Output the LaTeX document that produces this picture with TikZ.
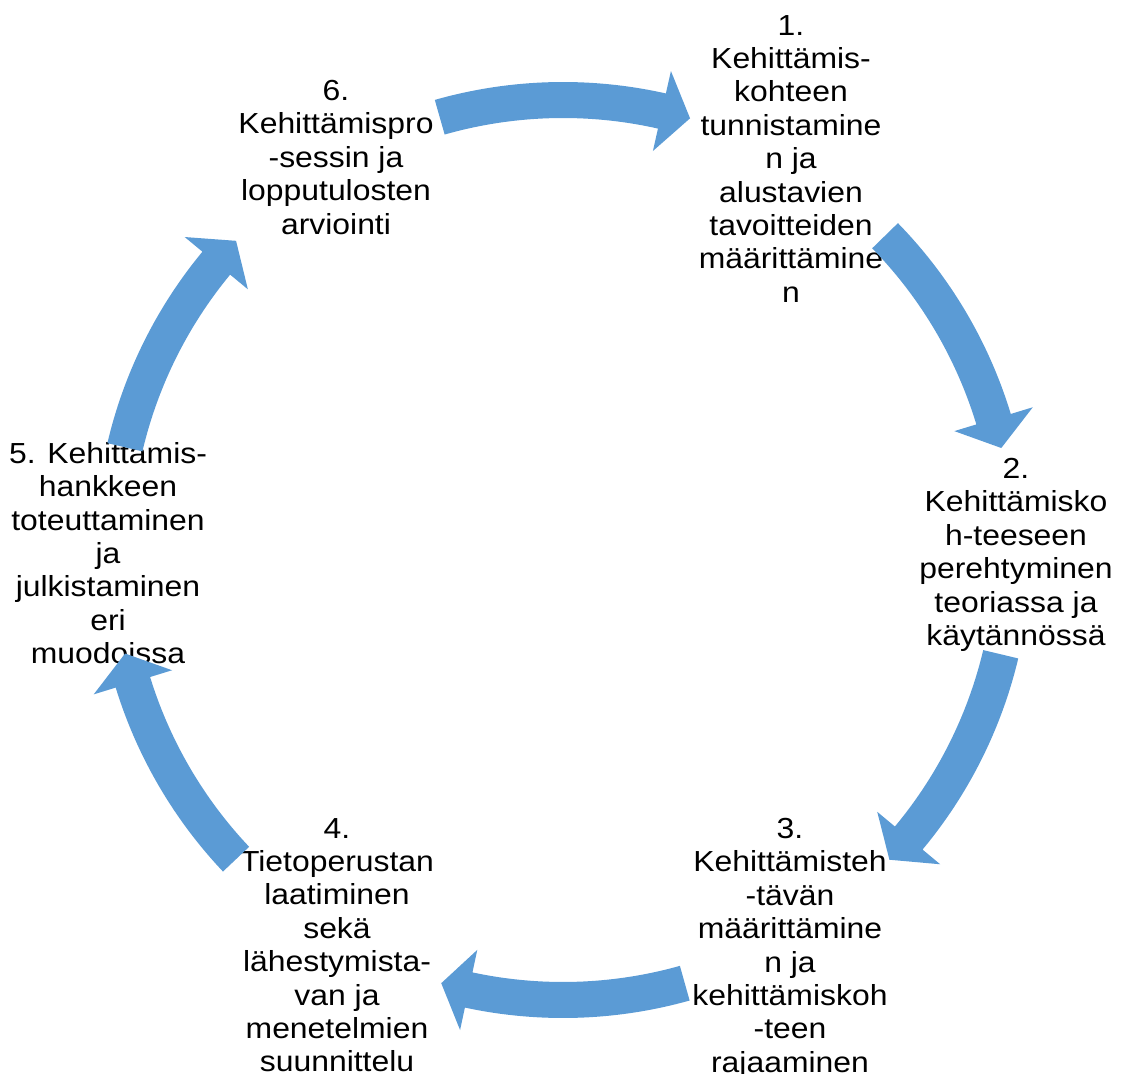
\documentclass[tikz,border=0pt]{standalone}
\usepackage{fontspec}
\setmainfont{Liberation Sans}[FakeStretch=1.1]
\usetikzlibrary{calc}
\definecolor{arrowblue}{HTML}{5B9BD5}
\tikzset{
  steptext/.style={align=center, inner sep=0pt, anchor=north, text=black,
    font=\fontsize{29pt}{33.4pt}\selectfont},
  arrowfill/.style={fill=arrowblue, draw=none}
}
% #1 tail angle, #2 head base angle, #3 tip angle
\newcommand{\cycarrow}[3]{%
  \fill[arrowfill] ($(C)+(#1:468)$) arc[start angle=#1, end angle=#2, radius=468]
    -- ($(C)+(#2:491)$) -- ($(C)+(#3:450)$) -- ($(C)+(#2:409)$)
    -- ($(C)+(#2:432)$) arc[start angle=#2, end angle=#1, radius=432] -- cycle;}
\begin{document}
\begin{tikzpicture}[x=1pt, y=1pt]
\useasboundingbox (0,0) rectangle (1125,1074);
\coordinate (C) at (563,524);
\node[steptext] (n1) at (791,1059) {1.\\Kehittämis-\\kohteen\\tunnistamine\\n ja\\alustavien\\tavoitteiden\\määrittämine\\n};
\node[steptext] (n2) at (1016,616) {2.\\Kehittämisko\\h-teeseen\\perehtyminen\\teoriassa ja\\käytännössä};
\node[steptext] (n3) at (790,256) {3.\\Kehittämisteh\\-tävän\\määrittämine\\n ja\\kehittämiskoh\\-teen\\rajaaminen};
\node[steptext] (n4) at (337,256) {4.\\Tietoperustan\\laatiminen\\sekä\\lähestymista-\\van ja\\menetelmien\\suunnittelu};
\node[steptext] (n5) at (108,632) {5. Kehittämis-\\hankkeen\\toteuttaminen\\ja\\julkistaminen\\eri\\muodoissa};
\node[steptext] (n6) at (336,994) {6.\\Kehittämispro\\-sessin ja\\lopputulosten\\arviointi};
\cycarrow{105.9}{77.3}{73.6}
\cycarrow{44.3}{16.9}{13.1}
\cycarrow{-13.4}{-39.8}{-43.5}
\cycarrow{-74.3}{-102.1}{-105.7}
\cycarrow{-136.6}{-162.9}{-166.7}
\cycarrow{166.8}{140.4}{136.6}
\end{tikzpicture}
\end{document}
